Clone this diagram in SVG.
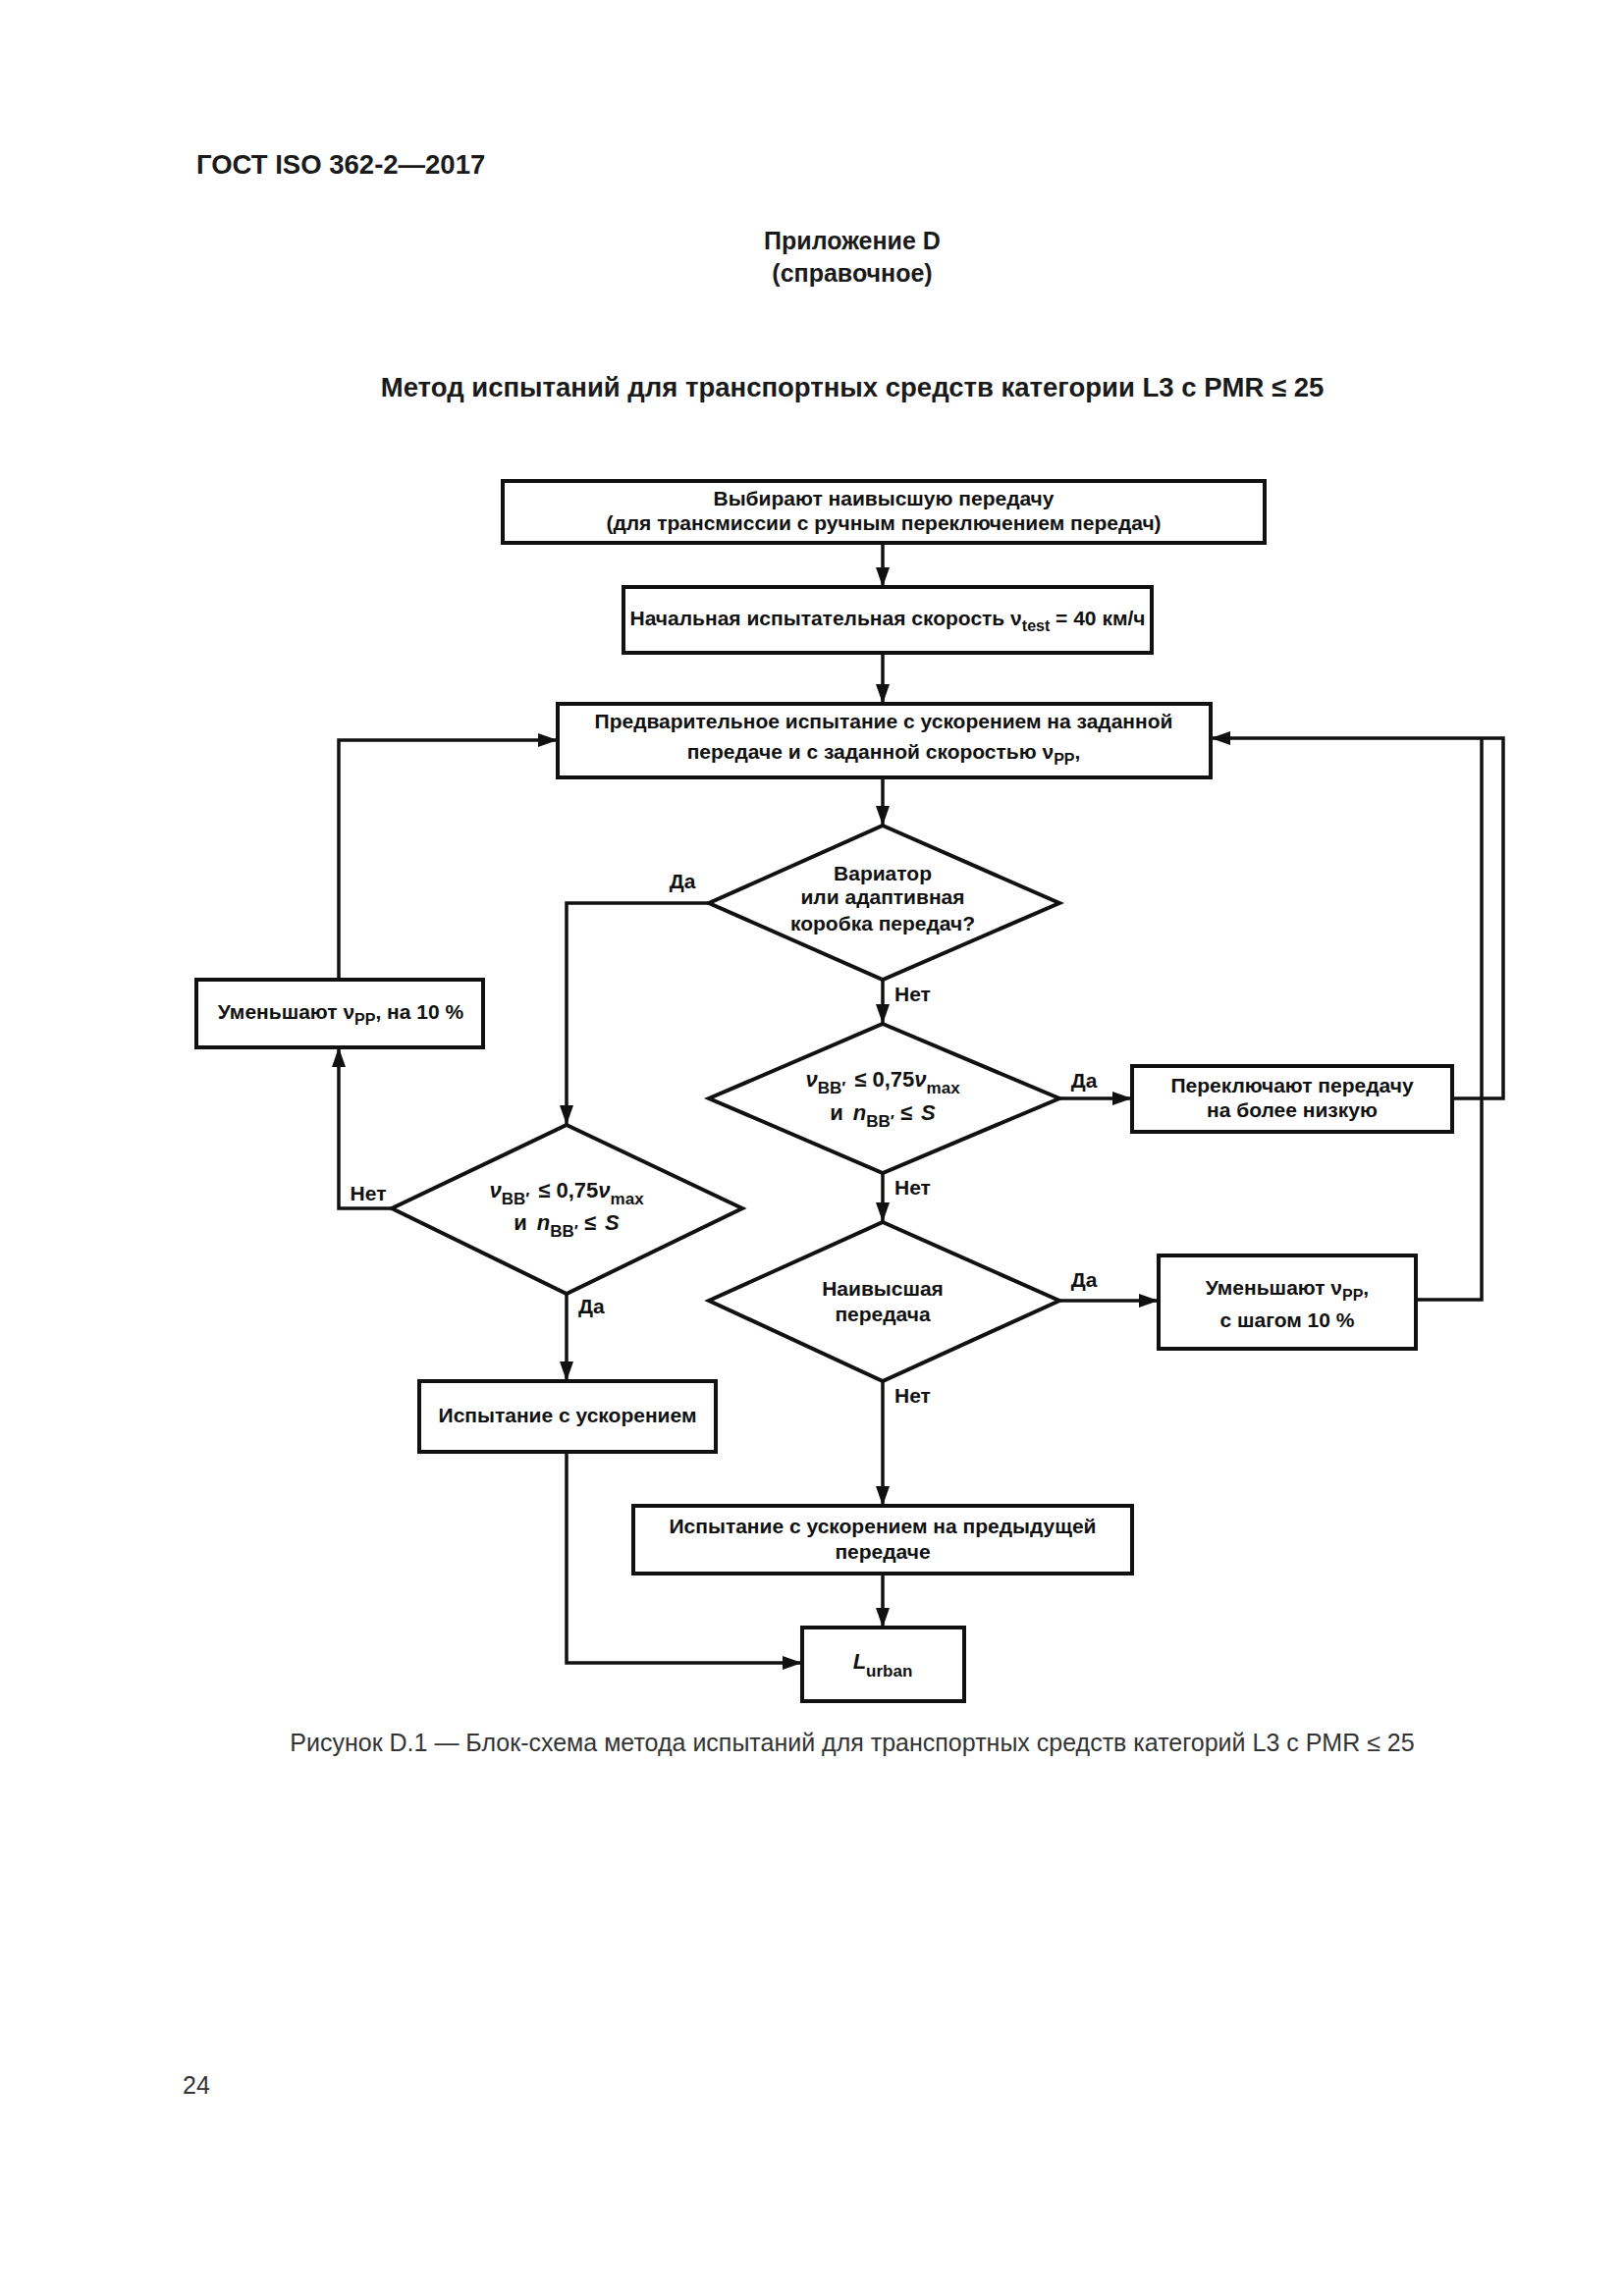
<svg xmlns="http://www.w3.org/2000/svg" width="1654" height="2339" viewBox="0 0 1654 2339">
<style>
  .hdr { font-family: "Liberation Sans", Arial, sans-serif; font-weight: bold; font-size: 25px; fill: #1a1a1a; }
  .big { font-size: 27.5px; }
  .t { font-family: "Liberation Sans", Arial, sans-serif; font-weight: bold; font-size: 21px; fill: #111; text-anchor: middle; }
  .f { font-family: "Liberation Sans", Arial, sans-serif; font-weight: bold; font-size: 22px; fill: #111; text-anchor: middle; }
  .lbl { font-family: "Liberation Sans", Arial, sans-serif; font-weight: bold; font-size: 21px; fill: #111; }
  .cap { font-family: "Liberation Sans", Arial, sans-serif; font-size: 25px; fill: #333; text-anchor: middle; }
  .box { fill: #fff; stroke: #111; stroke-width: 4; }
  .ln { fill: none; stroke: #111; stroke-width: 3.5; }
  .sub { font-size: 16px; }
  .fs { font-size: 17px; }
  .it { font-style: italic; }
</style>
<defs>
  <marker id="ah" markerUnits="userSpaceOnUse" markerWidth="22" markerHeight="14" refX="20" refY="7" orient="auto">
    <path d="M0,0 L20,7 L0,14 Z" fill="#111"/>
  </marker>
</defs>
<rect width="1654" height="2339" fill="#fff"/>

<text class="hdr big" x="200" y="177">ГОСТ ISO 362-2—2017</text>
<text class="hdr" x="868" y="254" text-anchor="middle">Приложение D</text>
<text class="hdr" x="868" y="287" text-anchor="middle">(справочное)</text>
<text class="hdr big" x="868" y="404" text-anchor="middle">Метод испытаний для транспортных средств категории L3 с PMR ≤ 25</text>

<g id="connectors">
  <path class="ln" d="M899,553 L899,598" marker-end="url(#ah)"/>
  <path class="ln" d="M899,665 L899,717" marker-end="url(#ah)"/>
  <path class="ln" d="M899,792 L899,841" marker-end="url(#ah)"/>
  <path class="ln" d="M722,920 L577,920 L577,1146" marker-end="url(#ah)"/>
  <path class="ln" d="M899,998 L899,1043" marker-end="url(#ah)"/>
  <path class="ln" d="M1079,1119 L1153,1119" marker-end="url(#ah)"/>
  <path class="ln" d="M1479,1119 L1531,1119 L1531,752 L1233,752" marker-end="url(#ah)"/>
  <path class="ln" d="M899,1195 L899,1245" marker-end="url(#ah)"/>
  <path class="ln" d="M1079,1325 L1180,1325" marker-end="url(#ah)"/>
  <path class="ln" d="M1442,1324 L1509,1324 L1509,752"/>
  <path class="ln" d="M899,1407 L899,1534" marker-end="url(#ah)"/>
  <path class="ln" d="M899,1603 L899,1658" marker-end="url(#ah)"/>
  <path class="ln" d="M399,1231 L345,1231 L345,1067" marker-end="url(#ah)"/>
  <path class="ln" d="M345,998 L345,754 L568,754" marker-end="url(#ah)"/>
  <path class="ln" d="M577,1318 L577,1407" marker-end="url(#ah)"/>
  <path class="ln" d="M577,1479 L577,1694 L817,1694" marker-end="url(#ah)"/>
  <text class="lbl" x="695" y="905" text-anchor="middle">Да</text>
  <text class="lbl" x="911" y="1020">Нет</text>
  <text class="lbl" x="1104" y="1108" text-anchor="middle">Да</text>
  <text class="lbl" x="911" y="1217">Нет</text>
  <text class="lbl" x="1104" y="1311" text-anchor="middle">Да</text>
  <text class="lbl" x="911" y="1429">Нет</text>
  <text class="lbl" x="375" y="1223" text-anchor="middle">Нет</text>
  <text class="lbl" x="589" y="1338">Да</text>
</g>

<g id="n1">
  <rect class="box" x="512" y="490" width="776" height="63"/>
  <text class="t" x="900" y="515">Выбирают наивысшую передачу</text>
  <text class="t" x="900" y="540">(для трансмиссии с ручным переключением передач)</text>
</g>
<g id="n2">
  <rect class="box" x="635" y="598" width="538" height="67"/>
  <text class="t" x="904" y="637">Начальная испытательная скорость ν<tspan class="sub" dy="6">test</tspan><tspan dy="-6"> = 40 км/ч</tspan></text>
</g>
<g id="n3">
  <rect class="box" x="568" y="717" width="665" height="75"/>
  <text class="t" x="900" y="742">Предварительное испытание с ускорением на заданной</text>
  <text class="t" x="900" y="773">передаче и с заданной скоростью ν<tspan class="sub" dy="6">PP</tspan><tspan dy="-6">,</tspan></text>
</g>
<g id="d1">
  <polygon class="box" points="899,841 1079,920 899,998 722,920"/>
  <text class="t" x="899" y="897">Вариатор</text>
  <text class="t" x="899" y="921">или адаптивная</text>
  <text class="t" x="899" y="948">коробка передач?</text>
</g>
<g id="d2">
  <polygon class="box" points="899,1043 1079,1119 899,1195 722,1119"/>
  <text class="f" x="899" y="1107"><tspan class="it">ν</tspan><tspan class="fs" dy="7">BB′</tspan><tspan dy="-7" dx="9">≤ 0,75</tspan><tspan class="it">ν</tspan><tspan class="fs" dy="7">max</tspan></text>
  <text class="f" x="899" y="1141">и <tspan class="it" dx="4">n</tspan><tspan class="fs" dy="7">BB′</tspan><tspan dy="-7" dx="6">≤ </tspan><tspan class="it" dx="3">S</tspan></text>
</g>
<g id="n4">
  <rect class="box" x="1153" y="1086" width="326" height="67"/>
  <text class="t" x="1316" y="1113">Переключают передачу</text>
  <text class="t" x="1316" y="1138">на более низкую</text>
</g>
<g id="d3">
  <polygon class="box" points="899,1245 1079,1325 899,1407 722,1325"/>
  <text class="t" x="899" y="1320">Наивысшая</text>
  <text class="t" x="899" y="1346">передача</text>
</g>
<g id="n5">
  <rect class="box" x="1180" y="1279" width="262" height="95"/>
  <text class="t" x="1311" y="1319">Уменьшают ν<tspan class="sub" dy="6">PP</tspan><tspan dy="-6">,</tspan></text>
  <text class="t" x="1311" y="1352">с шагом 10 %</text>
</g>
<g id="n6">
  <rect class="box" x="645" y="1534" width="508" height="69"/>
  <text class="t" x="899" y="1562">Испытание с ускорением на предыдущей</text>
  <text class="t" x="899" y="1588">передаче</text>
</g>
<g id="n7">
  <rect class="box" x="817" y="1658" width="165" height="75"/>
  <text class="f" x="899" y="1700"><tspan class="it">L</tspan><tspan class="fs" dy="8">urban</tspan></text>
</g>
<g id="n8">
  <rect class="box" x="200" y="998" width="292" height="69"/>
  <text class="t" x="347" y="1038">Уменьшают ν<tspan class="sub" dy="6">PP</tspan><tspan dy="-6">, на 10 %</tspan></text>
</g>
<g id="d4">
  <polygon class="box" points="577,1146 756,1231 577,1318 399,1231"/>
  <text class="f" x="577" y="1220"><tspan class="it">ν</tspan><tspan class="fs" dy="7">BB′</tspan><tspan dy="-7" dx="9">≤ 0,75</tspan><tspan class="it">ν</tspan><tspan class="fs" dy="7">max</tspan></text>
  <text class="f" x="577" y="1253">и <tspan class="it" dx="4">n</tspan><tspan class="fs" dy="7">BB′</tspan><tspan dy="-7" dx="6">≤ </tspan><tspan class="it" dx="3">S</tspan></text>
</g>
<g id="n9">
  <rect class="box" x="427" y="1407" width="302" height="72"/>
  <text class="t" x="578" y="1449">Испытание с ускорением</text>
</g>

<text class="cap" x="868" y="1784">Рисунок D.1 — Блок-схема метода испытаний для транспортных средств категорий L3 с PMR ≤ 25</text>
<text class="cap" x="200" y="2133" text-anchor="start">24</text>
</svg>
